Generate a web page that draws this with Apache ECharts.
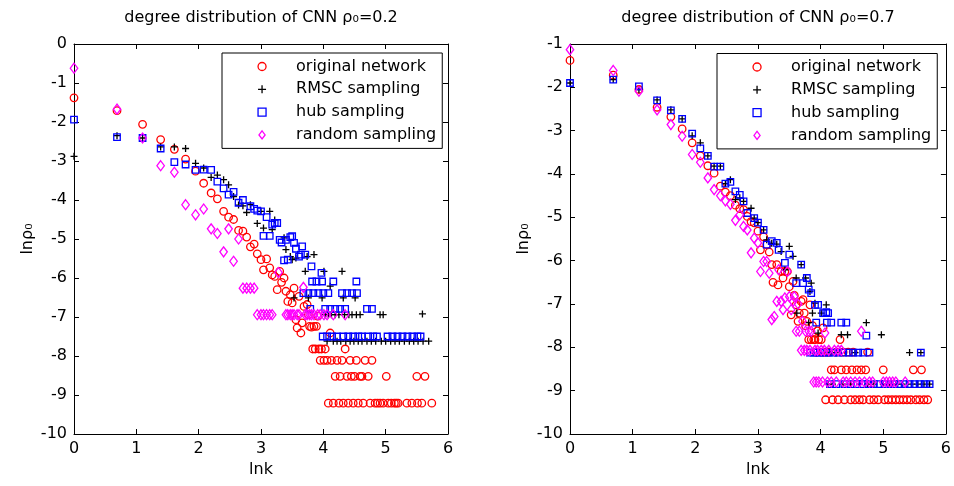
<!DOCTYPE html>
<html><head><meta charset="utf-8">
<script src="https://cdn.jsdelivr.net/npm/echarts@6/dist/echarts.min.js"></script>
<style>html,body{margin:0;padding:0;background:#fff}#c{width:954px;height:486px}</style>
</head><body><div id="c"></div>
<script>
// ---------- data (x = lnk, y = lnρ0) ----------
const seriesNames = ['original network', 'RMSC sampling', 'hub sampling', 'random sampling'];
const titles = ['degree distribution of CNN ρ₀=0.2', 'degree distribution of CNN ρ₀=0.7'];
const xTickRange = [0, 6];
const leftYRange = [-10, 0];
const rightYRange = [-10, -1];

const leftOriginal = [[0,-1.38],[0.69,-1.71],[1.10,-2.06],[1.39,-2.45],[1.61,-2.70],[1.79,-2.95],[1.95,-3.26],[2.08,-3.57],[2.20,-3.82],[2.30,-3.97],[2.40,-4.29],[2.48,-4.44],[2.56,-4.50],[2.64,-4.78],[2.71,-4.80],[2.77,-4.95],[2.83,-5.20],[2.89,-5.13],[2.94,-5.38],[3.00,-5.53],[3.04,-5.79],[3.09,-5.51],[3.14,-5.74],[3.18,-5.92],[3.22,-5.96],[3.26,-6.30],[3.30,-5.83],[3.33,-6.11],[3.37,-6.00],[3.40,-6.34],[3.43,-6.60],[3.47,-6.43],[3.50,-6.64],[3.53,-6.26],[3.56,-7.07],[3.58,-7.28],[3.61,-6.47],[3.64,-7.41],[3.66,-7.15],[3.69,-6.73],[3.74,-6.68],[3.76,-6.94],[3.78,-7.24],[3.81,-7.26],[3.83,-7.82],[3.85,-7.24],[3.87,-7.82],[3.89,-7.24],[3.91,-6.98],[3.93,-7.82],[3.95,-8.11],[3.97,-7.82],[4.01,-8.11],[4.03,-7.82],[4.06,-8.11],[4.08,-9.21],[4.11,-7.41],[4.13,-8.11],[4.16,-9.21],[4.19,-8.52],[4.22,-8.11],[4.25,-9.21],[4.27,-8.52],[4.30,-8.11],[4.32,-9.21],[4.35,-7.82],[4.38,-8.52],[4.40,-9.21],[4.43,-8.11],[4.45,-8.52],[4.48,-9.21],[4.50,-8.52],[4.53,-8.11],[4.56,-9.21],[4.59,-8.52],[4.62,-8.52],[4.64,-9.21],[4.67,-8.11],[4.72,-8.52],[4.75,-9.21],[4.78,-8.11],[4.83,-9.21],[4.87,-9.21],[4.91,-9.21],[4.96,-9.21],[5.01,-8.52],[5.04,-9.21],[5.09,-9.21],[5.14,-9.21],[5.17,-9.21],[5.20,-9.21],[5.34,-9.21],[5.42,-9.21],[5.50,-8.52],[5.51,-9.21],[5.58,-9.21],[5.63,-8.52],[5.74,-9.21]];

const leftRMSC = [[0,-2.88],[0.69,-2.35],[1.10,-2.41],[1.39,-2.64],[1.61,-2.64],[1.79,-2.68],[1.95,-3.06],[2.08,-3.18],[2.20,-3.42],[2.30,-3.36],[2.40,-3.48],[2.48,-3.61],[2.56,-3.91],[2.64,-4.13],[2.71,-4.15],[2.77,-4.32],[2.83,-4.12],[2.94,-4.60],[3.00,-4.29],[3.04,-4.72],[3.14,-4.29],[3.18,-4.76],[3.22,-4.51],[3.37,-4.97],[3.40,-5.27],[3.47,-5.45],[3.50,-5.53],[3.53,-6.51],[3.56,-5.49],[3.71,-5.83],[3.74,-5.45],[3.76,-6.51],[3.85,-5.40],[3.98,-6.51],[4.01,-5.83],[4.03,-6.94],[4.06,-7.62],[4.08,-6.94],[4.11,-6.21],[4.13,-6.94],[4.16,-7.62],[4.19,-6.94],[4.22,-7.62],[4.25,-6.94],[4.28,-7.62],[4.30,-5.83],[4.32,-6.51],[4.34,-6.94],[4.36,-7.62],[4.41,-6.94],[4.43,-7.62],[4.46,-6.94],[4.49,-7.62],[4.51,-6.51],[4.53,-6.94],[4.56,-7.62],[4.59,-6.94],[4.62,-7.62],[4.70,-7.62],[4.77,-7.62],[4.84,-7.62],[4.91,-6.94],[4.93,-7.62],[4.96,-6.94],[5.00,-7.62],[5.08,-7.62],[5.15,-7.62],[5.22,-7.62],[5.30,-7.62],[5.38,-7.62],[5.45,-7.62],[5.52,-7.62],[5.59,-6.92],[5.60,-7.62],[5.69,-7.62]];

const leftHub = [[0,-1.94],[0.69,-2.39],[1.10,-2.41],[1.39,-2.68],[1.61,-3.03],[1.79,-3.09],[1.95,-3.23],[2.08,-3.22],[2.20,-3.23],[2.30,-3.53],[2.40,-3.70],[2.48,-3.86],[2.56,-3.79],[2.64,-4.07],[2.71,-4.00],[2.83,-4.16],[2.89,-4.23],[2.94,-4.27],[3.00,-4.29],[3.04,-4.92],[3.09,-4.44],[3.14,-4.92],[3.18,-4.63],[3.22,-4.59],[3.26,-4.59],[3.30,-5.02],[3.33,-5.09],[3.37,-5.55],[3.40,-5.02],[3.43,-5.53],[3.47,-4.95],[3.50,-4.93],[3.53,-5.10],[3.56,-5.25],[3.61,-5.45],[3.64,-5.40],[3.66,-5.19],[3.68,-6.39],[3.71,-5.40],[3.76,-6.39],[3.79,-6.79],[3.81,-5.70],[3.82,-6.09],[3.84,-6.39],[3.89,-6.09],[3.92,-6.39],[3.97,-5.87],[3.98,-6.09],[3.99,-7.50],[4.00,-6.39],[4.03,-6.79],[4.06,-7.50],[4.08,-6.39],[4.11,-6.79],[4.14,-7.50],[4.16,-6.09],[4.19,-6.79],[4.22,-7.50],[4.27,-6.79],[4.30,-6.39],[4.32,-7.50],[4.35,-6.79],[4.38,-6.39],[4.40,-7.50],[4.46,-6.39],[4.48,-7.50],[4.53,-6.09],[4.54,-6.39],[4.56,-7.50],[4.62,-7.50],[4.70,-6.79],[4.72,-7.50],[4.78,-6.79],[4.80,-7.50],[4.86,-7.50],[5.03,-7.50],[5.11,-7.50],[5.19,-7.50],[5.27,-7.50],[5.35,-7.50],[5.43,-7.50],[5.51,-7.50],[5.56,-7.50]];

const leftRandom = [[0,-0.62],[0.69,-1.67],[1.10,-2.41],[1.39,-3.12],[1.61,-3.29],[1.79,-4.12],[1.95,-4.38],[2.08,-4.23],[2.20,-4.74],[2.30,-4.86],[2.40,-5.33],[2.48,-4.74],[2.56,-5.57],[2.64,-5.00],[2.71,-6.26],[2.77,-6.26],[2.83,-6.26],[2.89,-6.26],[2.94,-6.94],[3.00,-6.94],[3.04,-6.94],[3.09,-6.94],[3.14,-6.94],[3.18,-6.94],[3.28,-5.86],[3.40,-6.94],[3.43,-6.94],[3.47,-6.94],[3.50,-6.94],[3.53,-6.94],[3.58,-6.94],[3.61,-6.94],[3.68,-6.24],[3.71,-6.94],[3.74,-6.94],[3.78,-6.94],[3.81,-6.94],[3.85,-6.94],[3.91,-6.94],[3.95,-6.94],[4.01,-6.94],[4.06,-6.94],[4.16,-6.94],[4.35,-6.94]];

const rightOriginal = [[0,-1.38],[0.69,-1.72],[1.10,-2.05],[1.39,-2.46],[1.61,-2.68],[1.79,-2.96],[1.95,-3.28],[2.08,-3.58],[2.20,-3.81],[2.30,-3.98],[2.40,-4.28],[2.48,-4.42],[2.56,-4.50],[2.64,-4.72],[2.71,-4.80],[2.77,-4.82],[2.83,-4.98],[2.89,-5.10],[2.94,-5.13],[3.00,-5.32],[3.04,-5.75],[3.09,-5.45],[3.14,-5.63],[3.18,-5.80],[3.22,-6.09],[3.24,-6.50],[3.30,-6.09],[3.32,-6.56],[3.37,-6.25],[3.40,-6.40],[3.43,-6.25],[3.47,-6.25],[3.50,-6.60],[3.53,-7.25],[3.56,-6.48],[3.58,-6.80],[3.61,-7.02],[3.64,-7.40],[3.66,-7.21],[3.69,-6.94],[3.72,-6.90],[3.74,-7.21],[3.76,-7.50],[3.78,-7.40],[3.81,-7.82],[3.83,-7.02],[3.85,-7.82],[3.87,-7.50],[3.89,-7.82],[3.91,-7.82],[3.93,-8.11],[3.95,-7.62],[3.97,-7.82],[4.01,-7.82],[4.03,-8.11],[4.04,-7.55],[4.06,-8.11],[4.08,-9.21],[4.11,-8.11],[4.13,-8.11],[4.17,-8.52],[4.19,-9.21],[4.22,-8.52],[4.25,-8.11],[4.28,-9.21],[4.31,-7.82],[4.33,-8.52],[4.36,-8.11],[4.38,-9.21],[4.41,-8.52],[4.44,-8.11],[4.48,-9.21],[4.50,-8.52],[4.52,-8.11],[4.55,-9.21],[4.58,-8.52],[4.62,-9.21],[4.65,-8.52],[4.68,-9.21],[4.72,-8.52],[4.75,-8.11],[4.78,-9.21],[4.85,-9.21],[4.92,-9.21],[5.00,-8.52],[5.02,-9.21],[5.08,-9.21],[5.14,-9.21],[5.20,-9.21],[5.26,-9.21],[5.32,-9.21],[5.38,-9.21],[5.44,-9.21],[5.48,-8.52],[5.52,-9.21],[5.58,-9.21],[5.61,-8.52],[5.65,-9.21],[5.71,-9.21]];

const rightRMSC = [[0,-1.90],[0.69,-1.82],[1.10,-2.05],[1.39,-2.29],[1.61,-2.52],[1.79,-2.73],[1.95,-3.12],[2.08,-3.28],[2.20,-3.58],[2.30,-3.82],[2.40,-3.82],[2.48,-4.22],[2.56,-4.13],[2.64,-4.59],[2.71,-4.55],[2.77,-4.63],[2.89,-4.79],[2.94,-5.02],[3.00,-5.12],[3.09,-5.29],[3.14,-5.52],[3.22,-5.60],[3.30,-5.62],[3.37,-5.79],[3.43,-6.21],[3.50,-5.67],[3.56,-5.90],[3.61,-6.40],[3.62,-7.21],[3.69,-6.09],[3.76,-6.40],[3.81,-7.43],[3.83,-6.71],[3.85,-6.52],[3.87,-7.21],[3.91,-6.98],[3.96,-7.67],[4.01,-7.21],[4.09,-7.02],[4.12,-8.85],[4.15,-8.12],[4.19,-8.85],[4.25,-8.12],[4.33,-7.71],[4.36,-8.85],[4.43,-7.71],[4.48,-8.85],[4.55,-8.12],[4.62,-8.85],[4.73,-7.43],[4.75,-8.85],[4.85,-8.85],[4.97,-7.71],[5.00,-8.85],[5.10,-8.85],[5.20,-8.85],[5.30,-8.85],[5.42,-8.12],[5.45,-8.85],[5.55,-8.85],[5.60,-8.12],[5.65,-8.85],[5.74,-8.85]];

const rightHub = [[0,-1.90],[0.69,-1.82],[1.10,-1.98],[1.39,-2.30],[1.61,-2.53],[1.79,-2.73],[1.95,-3.07],[2.08,-3.41],[2.20,-3.58],[2.30,-3.83],[2.40,-3.83],[2.48,-4.22],[2.56,-4.18],[2.64,-4.40],[2.71,-4.48],[2.77,-4.63],[2.83,-4.90],[2.94,-5.02],[3.00,-5.12],[3.09,-5.29],[3.14,-5.63],[3.22,-5.55],[3.30,-5.59],[3.33,-5.75],[3.43,-6.05],[3.50,-5.86],[3.61,-6.52],[3.69,-6.09],[3.72,-6.52],[3.78,-6.40],[3.81,-6.67],[3.83,-8.12],[3.85,-6.75],[3.89,-8.12],[3.91,-7.02],[3.93,-7.43],[3.95,-8.12],[3.96,-7.02],[3.99,-8.12],[4.04,-7.21],[4.06,-8.12],[4.09,-7.19],[4.10,-7.43],[4.12,-7.21],[4.13,-8.12],[4.15,-8.85],[4.17,-7.43],[4.20,-8.12],[4.25,-8.85],[4.28,-8.12],[4.33,-7.43],[4.36,-8.12],[4.38,-8.85],[4.41,-7.43],[4.45,-8.12],[4.48,-8.85],[4.52,-8.12],[4.58,-8.85],[4.60,-8.12],[4.67,-8.85],[4.68,-8.12],[4.73,-7.73],[4.76,-8.85],[4.78,-8.12],[4.85,-8.85],[4.94,-8.85],[5.02,-8.85],[5.10,-8.85],[5.18,-8.85],[5.26,-8.85],[5.34,-8.85],[5.42,-8.85],[5.50,-8.85],[5.58,-8.85],[5.60,-8.12],[5.66,-8.85],[5.74,-8.85]];

const rightRandom = [[0,-1.13],[0.69,-1.61],[1.10,-2.09],[1.39,-2.52],[1.61,-2.86],[1.79,-3.13],[1.95,-3.55],[2.08,-3.73],[2.20,-4.09],[2.30,-4.36],[2.40,-4.50],[2.48,-4.62],[2.56,-4.70],[2.64,-5.07],[2.71,-4.94],[2.77,-5.21],[2.83,-5.29],[2.89,-5.82],[2.94,-5.48],[3.00,-5.59],[3.04,-6.25],[3.09,-6.02],[3.14,-6.02],[3.18,-6.29],[3.22,-7.36],[3.26,-7.29],[3.30,-6.94],[3.33,-6.21],[3.37,-6.94],[3.40,-7.13],[3.43,-6.86],[3.47,-6.25],[3.50,-6.83],[3.53,-7.13],[3.56,-6.94],[3.58,-6.83],[3.61,-7.63],[3.64,-7.00],[3.66,-7.63],[3.69,-8.07],[3.71,-7.40],[3.74,-8.07],[3.76,-7.63],[3.78,-8.07],[3.81,-7.63],[3.83,-8.07],[3.85,-7.63],[3.89,-8.80],[3.91,-8.07],[3.93,-8.80],[3.95,-8.07],[3.97,-8.80],[4.01,-8.07],[4.03,-8.80],[4.06,-8.07],[4.07,-7.67],[4.11,-8.80],[4.13,-8.07],[4.17,-8.80],[4.22,-8.07],[4.25,-8.80],[4.28,-8.07],[4.33,-8.07],[4.36,-8.80],[4.41,-8.80],[4.48,-8.80],[4.55,-8.80],[4.62,-8.80],[4.65,-7.63],[4.70,-8.80],[4.78,-8.80],[4.83,-8.80],[5.00,-8.80],[5.05,-8.80],[5.10,-8.80],[5.15,-8.80],[5.20,-8.80],[5.35,-8.80]];

const leftData = [leftOriginal, leftRMSC, leftHub, leftRandom];
const rightData = [rightOriginal, rightRMSC, rightHub, rightRandom];

// ---------- styles ----------
const FONT = 'DejaVu Sans';
const markerStyles = [
  { symbol: 'circle', symbolSize: 7.5, color: '#ff0000' },
  { symbol: 'path://M0,5L10,5M5,0L5,10', symbolSize: 7, color: '#000000' },
  { symbol: 'path://M0,0L10,0L10,10L0,10Z', symbolSize: 6.5, color: '#0000ff' },
  { symbol: 'path://M5,0L10,6.5L5,13L0,6.5Z', symbolSize: [7.5, 10], color: '#ff00ff' }
];
const gridBoxes = [
  { left: 74, top: 44, width: 374, height: 390 },
  { left: 570, top: 44, width: 376, height: 390 }
];

function xAxisDef(gi, pos) {
  const main = pos === 'bottom';
  return {
    gridIndex: gi, type: 'value', position: pos, min: xTickRange[0], max: xTickRange[1], interval: 1,
    axisLine: { show: true, onZero: false, lineStyle: { color: '#000', width: 1 } },
    axisTick: { show: true, inside: true, length: 5, lineStyle: { color: '#000' } },
    axisLabel: { show: main, color: '#000', fontSize: 16, fontFamily: FONT, margin: 7 },
    splitLine: { show: false },
    name: main ? 'lnk' : '', nameLocation: 'middle', nameGap: 27,
    nameTextStyle: { color: '#000', fontSize: 16, fontFamily: FONT }
  };
}
function yAxisDef(gi, pos, range) {
  const main = pos === 'left';
  return {
    gridIndex: gi, type: 'value', position: pos, min: range[0], max: range[1], interval: 1,
    axisLine: { show: true, onZero: false, lineStyle: { color: '#000', width: 1 } },
    axisTick: { show: true, inside: true, length: 5, lineStyle: { color: '#000' } },
    axisLabel: { show: main, color: '#000', fontSize: 16, fontFamily: FONT, margin: 7 },
    splitLine: { show: false },
    name: main ? 'lnρ₀' : '', nameLocation: 'middle', nameGap: 38,
    nameTextStyle: { color: '#000', fontSize: 16, fontFamily: FONT }
  };
}

const series = [];
[leftData, rightData].forEach((set, gi) => {
  set.forEach((data, si) => {
    const m = markerStyles[si];
    series.push({
      type: 'scatter', name: seriesNames[si], data: data,
      xAxisIndex: gi * 2, yAxisIndex: gi * 2,
      symbol: m.symbol, symbolSize: m.symbolSize, clip: false, silent: true,
      itemStyle: { color: 'rgba(0,0,0,0)', borderColor: m.color, borderWidth: 1.3, opacity: 1 },
      emphasis: { disabled: true }, animation: false
    });
  });
});

function legendDef(left, top) {
  return {
    left: left, top: top, orient: 'vertical', selectedMode: false,
    backgroundColor: '#fff', borderColor: '#000', borderWidth: 1, borderRadius: 0,
    padding: [5.5, 6, 5.5, 35.4], itemWidth: 8, itemHeight: 8, itemGap: 6.8,
    symbolKeepAspect: true,
    itemStyle: { borderWidth: 1.3 },
    textStyle: { color: '#000', fontSize: 16, fontFamily: FONT, padding: [0, 0, 0, 25] },
    data: seriesNames.map((n, i) => ({
      name: n, icon: markerStyles[i].symbol,
      itemStyle: { color: 'rgba(0,0,0,0)', borderColor: markerStyles[i].color, borderWidth: 1.3 }
    }))
  };
}

const option = {
  backgroundColor: '#fff',
  animation: false,
  grid: gridBoxes.map(g => Object.assign({ containLabel: false }, g)),
  xAxis: [xAxisDef(0, 'bottom'), xAxisDef(0, 'top'), xAxisDef(1, 'bottom'), xAxisDef(1, 'top')],
  yAxis: [yAxisDef(0, 'left', leftYRange), yAxisDef(0, 'right', leftYRange), yAxisDef(1, 'left', rightYRange), yAxisDef(1, 'right', rightYRange)],
  legend: [legendDef(222, 53), legendDef(717, 53.5)],
  graphic: titles.map((t, i) => ({
    type: 'text', x: gridBoxes[i].left + gridBoxes[i].width / 2, y: 17.5, silent: true,
    style: { text: t, fill: '#000', fontSize: 16, fontFamily: FONT, align: 'center', verticalAlign: 'middle' }
  })),
  series: series
};

const chart = echarts.init(document.getElementById('c'), null, { renderer: 'canvas' });
chart.setOption(option);
</script></body></html>
